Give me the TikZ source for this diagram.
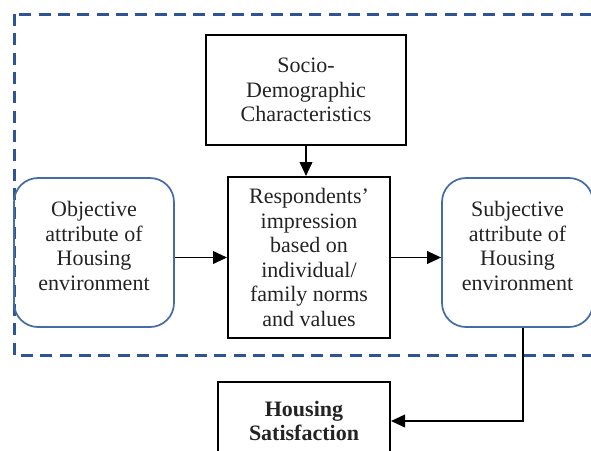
\documentclass[tikz,border=0pt]{standalone}
\usepackage{fontspec}
\setmainfont{Liberation Serif}
\usepackage{tikz}
\usetikzlibrary{arrows.meta}

\definecolor{frameblue}{RGB}{47,84,150}
\definecolor{boxblue}{RGB}{68,108,166}
\definecolor{txtgray}{RGB}{35,35,35}

\tikzset{
  boxfont/.style={font=\fontsize{16.5pt}{18.4pt}\selectfont},
  sqbox/.style={draw=black, line width=1.5pt, align=center, text=txtgray, boxfont, inner sep=0pt},
  rndbox/.style={draw=boxblue, line width=1.3pt, rounded corners=18pt},
  rndtext/.style={align=center, text=txtgray, boxfont, inner sep=0pt},
  flow/.style={line width=1.3pt, -{Triangle[length=10.5pt,width=9.5pt]}}
}

\begin{document}
\begin{tikzpicture}[x=0.75pt,y=0.75pt,yscale=-1,xscale=1]
\useasboundingbox (0,0) rectangle (591,450);
\clip (0,0) rectangle (591,450);

%Dashed frame
\draw [color=frameblue, line width=2.25pt, dash pattern=on 9pt off 5.5pt]  (14,14) rectangle (600,355) ;

%Boxes
\node [sqbox, minimum width=150pt, minimum height=82.5pt] (socio) at (306,90) {Socio-\\Demographic\\Characteristics};
\node [sqbox, minimum width=121.5pt, minimum height=120.75pt] (resp) at (309,257.5) {Respondents'\\impression\\based on\\individual/\\family norms\\and values};
\node [rndbox, minimum width=120pt, minimum height=111.75pt,
  label={[rndtext, yshift=5pt]center:Objective\\attribute of\\Housing\\environment}] (obj) at (94,252.5) {};
\node [rndbox, minimum width=113.25pt, minimum height=111.75pt,
  label={[rndtext, yshift=5pt]center:Subjective\\attribute of\\Housing\\environment}] (subj) at (517.5,252.5) {};
\node [sqbox, minimum width=129pt, minimum height=58.5pt, font=\fontsize{16.5pt}{18.4pt}\selectfont\bfseries] (hsat) at (304,421) {Housing\\Satisfaction};

%Arrows
\draw [flow]  (socio.south) -- (socio.south |- resp.north) ;
\draw [flow]  (obj.east |- resp.west) -- (resp.west) ;
\draw [flow]  (resp.east) -- (resp.east -| subj.west) ;
\draw [flow]  ([xshift=4pt]subj.south) |- (hsat.east) ;
\end{tikzpicture}
\end{document}
